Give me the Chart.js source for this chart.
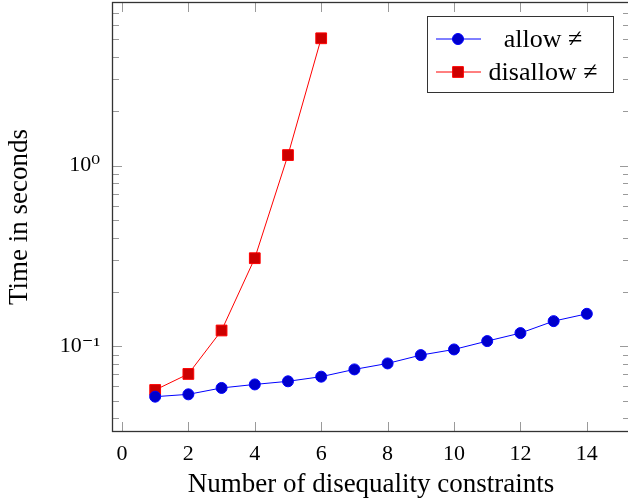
<!DOCTYPE html>
<html>
<head>
<meta charset="utf-8">
<script src="https://cdn.jsdelivr.net/npm/chart.js@4.4.1/dist/chart.umd.min.js"></script>
<style>
  html, body { margin: 0; padding: 0; background: #fff; overflow: hidden; }
  #wrap { width: 630px; height: 500px; }
</style>
</head>
<body>
<div id="wrap"><canvas id="myChart" width="630" height="500"></canvas></div>
<script>
'use strict';

// Dados
var constraints = [1, 2, 3, 4, 5, 6, 7, 8, 9, 10, 11, 12, 13, 14];
var allowTimes = [0.0527, 0.0543, 0.0589, 0.0616, 0.0641, 0.0680, 0.0746,
                  0.0805, 0.0895, 0.0962, 0.107, 0.1185, 0.138, 0.1515];
var disallowTimes = [0.0574, 0.0704, 0.1225, 0.3077, 1.145, 5.07];
var seriesNames = ['allow \u2260', 'disallow \u2260'];

// Eixos
var xTicks = [0, 2, 4, 6, 8, 10, 12, 14];
var yTicks = [0.1, 1];
var yTickLabels = ['10\u207B\u00B9', '10\u2070'];
var xLimits = [-0.3, 15.3];
var yLimits = [0.0336, 8.05];
var xTitle = 'Number of disequality constraints';
var yTitle = 'Time in seconds';

var FONT = '"Liberation Serif", "DejaVu Serif", serif';

function toPoints(xs, ys) {
  return ys.map(function (v, i) { return { x: xs[i], y: v }; });
}

// Marcas menores do eixo log (2..9 x 10^k)
function minorLogTicks(min, max) {
  var out = [];
  for (var e = Math.floor(Math.log10(min)); e <= Math.ceil(Math.log10(max)); e++) {
    for (var m = 2; m <= 9; m++) {
      var v = m * Math.pow(10, e);
      if (v > min && v < max) out.push(v);
    }
  }
  return out;
}

// Sem folga extra para rótulos nas pontas
function noEdgePadding(s) {
  s.paddingTop = 0; s.paddingBottom = 0;
  s.paddingLeft = 0; s.paddingRight = 0;
}

// Plugin: ticks para dentro, moldura, legenda e títulos no estilo pgfplots
var paperAxes = {
  id: 'paperAxes',
  beforeDatasetsDraw: function (chart) {
    var ctx = chart.ctx, a = chart.chartArea;
    var xs = chart.scales.x, ys = chart.scales.y;
    ctx.save();
    ctx.strokeStyle = '#9a9a9a';
    ctx.lineWidth = 1;
    ctx.beginPath();
    xTicks.forEach(function (t) {
      var px = Math.round(xs.getPixelForValue(t)) + 0.5;
      ctx.moveTo(px, a.bottom); ctx.lineTo(px, a.bottom - 10);
      ctx.moveTo(px, a.top); ctx.lineTo(px, a.top + 10);
    });
    yTicks.forEach(function (t) {
      var py = Math.round(ys.getPixelForValue(t)) + 0.5;
      ctx.moveTo(a.left, py); ctx.lineTo(a.left + 10, py);
      ctx.moveTo(a.right, py); ctx.lineTo(a.right - 10, py);
    });
    minorLogTicks(yLimits[0], yLimits[1]).forEach(function (t) {
      var py = Math.round(ys.getPixelForValue(t)) + 0.5;
      ctx.moveTo(a.left, py); ctx.lineTo(a.left + 7, py);
      ctx.moveTo(a.right, py); ctx.lineTo(a.right - 7, py);
    });
    ctx.stroke();
    ctx.restore();
  },
  afterDraw: function (chart) {
    var ctx = chart.ctx, a = chart.chartArea;
    ctx.save();
    // moldura
    ctx.strokeStyle = '#333';
    ctx.lineWidth = 1.3;
    ctx.strokeRect(a.left + 0.5, a.top + 0.5, a.right - a.left - 1, a.bottom - a.top - 1);

    // legenda
    var lw = 186, lh = 76;
    var lx = a.right - 17 - lw, ly = a.top + 14;
    ctx.fillStyle = '#fff';
    ctx.fillRect(lx, ly, lw, lh);
    ctx.strokeStyle = '#333';
    ctx.lineWidth = 1;
    ctx.strokeRect(lx + 0.5, ly + 0.5, lw, lh);
    chart.data.datasets.forEach(function (ds, i) {
      var ry = ly + 23 + i * 33;
      ctx.strokeStyle = ds.borderColor;
      ctx.lineWidth = 1;
      ctx.beginPath();
      ctx.moveTo(lx + 9, ry); ctx.lineTo(lx + 54, ry);
      ctx.stroke();
      ctx.fillStyle = ds.pointBackgroundColor;
      ctx.strokeStyle = ds.pointBorderColor;
      Chart.helpers.drawPoint(ctx, {
        pointStyle: ds.pointStyle, radius: ds.pointRadius,
        rotation: 0, borderWidth: ds.pointBorderWidth
      }, lx + 31, ry);
      ctx.fillStyle = '#000';
      ctx.font = '26px ' + FONT;
      ctx.textAlign = 'center';
      ctx.textBaseline = 'middle';
      ctx.fillText(ds.label, lx + 116, ry + 1);
    });

    // títulos dos eixos
    ctx.fillStyle = '#000';
    ctx.font = '27px ' + FONT;
    ctx.textAlign = 'center';
    ctx.textBaseline = 'middle';
    ctx.fillText(xTitle, (a.left + a.right) / 2, 485);
    ctx.translate(20, (a.top + a.bottom) / 2);
    ctx.rotate(-Math.PI / 2);
    ctx.fillText(yTitle, 0, 0);
    ctx.restore();
  }
};

var ctx = document.getElementById('myChart');
var myChart = new Chart(ctx, {
  type: 'line',
  data: {
    datasets: [
      {
        label: seriesNames[0],
        data: toPoints(constraints, allowTimes),
        borderColor: 'rgb(0,0,255)',
        borderWidth: 1,
        pointStyle: 'circle',
        pointRadius: 5.5,
        pointBorderWidth: 1,
        pointBackgroundColor: 'rgb(0,0,204)',
        pointBorderColor: 'rgb(0,0,255)',
        tension: 0
      },
      {
        label: seriesNames[1],
        data: toPoints(constraints, disallowTimes),
        borderColor: 'rgb(255,0,0)',
        borderWidth: 1,
        pointStyle: 'rect',
        pointRadius: 7.6,
        pointBorderWidth: 1,
        pointBackgroundColor: 'rgb(204,0,0)',
        pointBorderColor: 'rgb(255,0,0)',
        tension: 0
      }
    ]
  },
  options: {
    responsive: false,
    animation: false,
    layout: { autoPadding: false, padding: { top: 2, right: 0, left: 0, bottom: 0 } },
    plugins: {
      legend: { display: false },
      tooltip: { enabled: false }
    },
    scales: {
      x: {
        type: 'linear',
        min: xLimits[0],
        max: xLimits[1],
        afterBuildTicks: function (s) { s.ticks = xTicks.map(function (v) { return { value: v }; }); },
        ticks: { autoSkip: false, maxRotation: 0, color: '#000', padding: 9, font: { family: FONT, size: 22 } },
        grid: { display: false, drawTicks: false },
        border: { display: false },
        afterFit: function (s) { s.height = 68; noEdgePadding(s); }
      },
      y: {
        type: 'logarithmic',
        min: yLimits[0],
        max: yLimits[1],
        afterBuildTicks: function (s) { s.ticks = yTicks.map(function (v) { return { value: v }; }); },
        ticks: {
          autoSkip: false, color: '#000', padding: 12, font: { family: FONT, size: 22 },
          callback: function (v) { var i = yTicks.indexOf(v); return i >= 0 ? yTickLabels[i] : ''; }
        },
        grid: { display: false, drawTicks: false },
        border: { display: false },
        afterFit: function (s) { s.width = 112; noEdgePadding(s); }
      }
    }
  },
  plugins: [paperAxes]
});
</script>
</body>
</html>
